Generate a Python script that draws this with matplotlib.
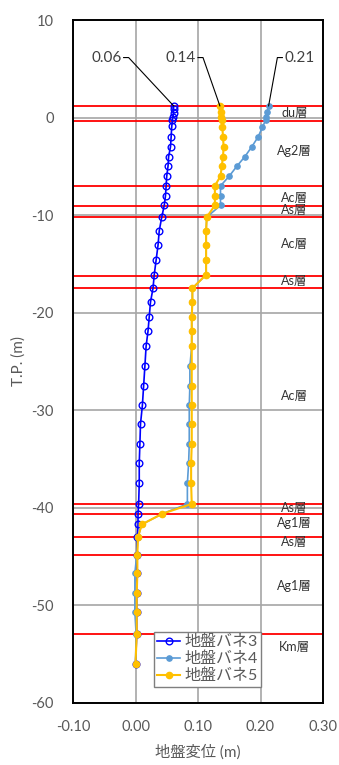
import matplotlib
matplotlib.use("Agg")
import matplotlib.pyplot as plt

plt.rcParams['font.family'] = ['Lato', 'Noto Sans CJK JP', 'DejaVu Sans']
plt.rcParams['axes.unicode_minus'] = False

# ---------------- data ----------------
depth3 = [1.2, 0.9, 0.5, 0.1, -0.3, -0.9, -2.0, -3.0, -4.0, -5.0, -6.0, -7.0, -8.0, -9.0,
          -10.2, -11.6, -13.1, -14.6, -16.1, -17.5, -18.9, -20.4, -21.9, -23.4, -25.5,
          -27.5, -29.5, -31.4, -33.5, -35.4, -37.5, -39.6, -40.6, -41.7, -43.0, -44.8,
          -46.7, -48.7, -50.7, -52.9, -56.0]
disp3 = [0.061, 0.061, 0.061, 0.060, 0.059, 0.058, 0.057, 0.056, 0.053, 0.052, 0.050,
         0.049, 0.048, 0.046, 0.042, 0.038, 0.036, 0.033, 0.030, 0.028, 0.024, 0.022,
         0.020, 0.017, 0.015, 0.013, 0.011, 0.008, 0.007, 0.006, 0.006, 0.005, 0.004,
         0.004, 0.003, 0.002, 0.002, 0.002, 0.002, 0.002, 0.000]

depth45 = [1.2, 0.6, 0.1, -0.3, -1.0, -2.0, -3.0, -4.0, -5.0, -6.0, -7.0, -8.0, -9.0,
           -10.2, -11.6, -13.1, -14.6, -16.1, -17.5, -18.9, -20.4, -21.9, -23.4, -25.5,
           -27.5, -29.5, -31.4, -33.5, -35.4, -37.5, -39.6, -40.6, -41.7, -43.0, -44.8,
           -46.7, -48.7, -50.7, -52.9, -56.0]
disp4 = [0.213, 0.211, 0.209, 0.208, 0.203, 0.196, 0.186, 0.175, 0.162, 0.150,
         0.136, 0.136, 0.136, 0.114, 0.113, 0.113, 0.113, 0.113, 0.091, 0.091,
         0.090, 0.090, 0.090, 0.087, 0.087, 0.086, 0.086, 0.086, 0.085, 0.083,
         0.083, 0.043, 0.010, 0.004, 0.002, -0.001, -0.001, -0.001, 0.001, 0.000]
disp5 = [0.135, 0.136, 0.137, 0.138, 0.139, 0.140, 0.141, 0.140, 0.138, 0.136,
         0.127, 0.127, 0.127, 0.114, 0.113, 0.113, 0.113, 0.113, 0.091, 0.091,
         0.090, 0.090, 0.090, 0.090, 0.090, 0.090, 0.090, 0.090, 0.089, 0.089,
         0.090, 0.043, 0.010, 0.004, 0.003, 0.003, 0.002, 0.002, 0.002, 0.000]

series_names = ['地盤バネ3', '地盤バネ4', '地盤バネ5']

boundaries = [1.2, -0.4, -7.0, -9.1, -10.2, -16.2, -17.5, -39.6, -40.6, -43.0, -44.8, -52.9]
layer_names = ['du層', 'Ag2層', 'Ac層', 'As層', 'Ac層', 'As層', 'Ac層', 'As層',
               'Ag1層', 'As層', 'Ag1層', 'Km層']
layer_label_y = [0.5, -3.4, -8.2, -9.5, -13.0, -16.7, -28.5, -40.0, -41.6, -43.5, -48.0, -54.3]

xticks = [-0.10, 0.00, 0.10, 0.20, 0.30]
yticks = [10, 0, -10, -20, -30, -40, -50, -60]

# ---------------- figure ----------------
fig = plt.figure(figsize=(3.39, 7.65), dpi=100)
ax = fig.add_axes([73/339, 1 - 703/765, 250/339, 683/765])

ax.set_xlim(-0.10, 0.30)
ax.set_ylim(-60, 10)
ax.set_xticks(xticks)
ax.set_xticklabels([f"{v:.2f}" for v in xticks])
ax.set_yticks(yticks)
ax.grid(True, color='#A6A6A6', lw=1.2, zorder=0)
ax.set_axisbelow(True)
ax.tick_params(length=0, labelsize=10.5, colors='#595959')
ax.tick_params(axis='x', pad=12)
ax.tick_params(axis='y', pad=14)
for s in ax.spines.values():
    s.set_color('black')
    s.set_linewidth(1.4)

for b in boundaries:
    ax.axhline(b, color='#FF0000', lw=1.3, zorder=1)

for name, yy in zip(layer_names, layer_label_y):
    ax.text(0.254, yy, name, ha='center', va='center', fontsize=9, color='#333333', zorder=2)

ax.plot(disp3, depth3, color='#0000FF', lw=1.2, marker='o', ms=4.8, mfc='none',
        mec='#0000FF', mew=1.0, label=series_names[0], zorder=3)
ax.plot(disp4, depth45, color='#5B9BD5', lw=1.2, marker='o', ms=3.8, mfc='#5B9BD5',
        mec='#5B9BD5', label=series_names[1], zorder=4)
ax.plot(disp5, depth45, color='#FFC000', lw=1.5, marker='o', ms=4.5, mfc='#FFC000',
        mec='#FFC000', label=series_names[2], zorder=5)

# leader annotations for top values
hy = 6.15
ann = [
    (disp3[0], depth3[0], -0.019, -0.011, 'right'),
    (disp5[0], depth45[0], 0.100, 0.108, 'right'),
    (disp4[0], depth45[0], 0.235, 0.227, 'left'),
]
for px, py, x0, x1, ha in ann:
    ax.plot([x0, x1, px], [hy, hy, py], color='black', lw=0.8, zorder=6)
    tx = x0 - 0.003 if ha == 'right' else x0 + 0.003
    ax.text(tx, hy, f"{px:.2f}", ha=ha, va='center', fontsize=11, color='#404040')

ax.set_xlabel('地盤変位 (m)', fontsize=11, color='#595959', labelpad=8)
ax.set_ylabel('T.P. (m)', fontsize=11, color='#595959', labelpad=4)

leg = ax.legend(loc='lower left', bbox_to_anchor=(0.325, 0.024), fontsize=11.5,
                frameon=True, fancybox=False, framealpha=1, edgecolor='#7F7F7F',
                handlelength=1.4, handletextpad=0.3, borderpad=0.2, labelspacing=0.15,
                borderaxespad=0)
leg.get_frame().set_linewidth(1.0)
for t in leg.get_texts():
    t.set_color('#595959')
leg.set_zorder(10)

fig.savefig('out.png', dpi=100)
